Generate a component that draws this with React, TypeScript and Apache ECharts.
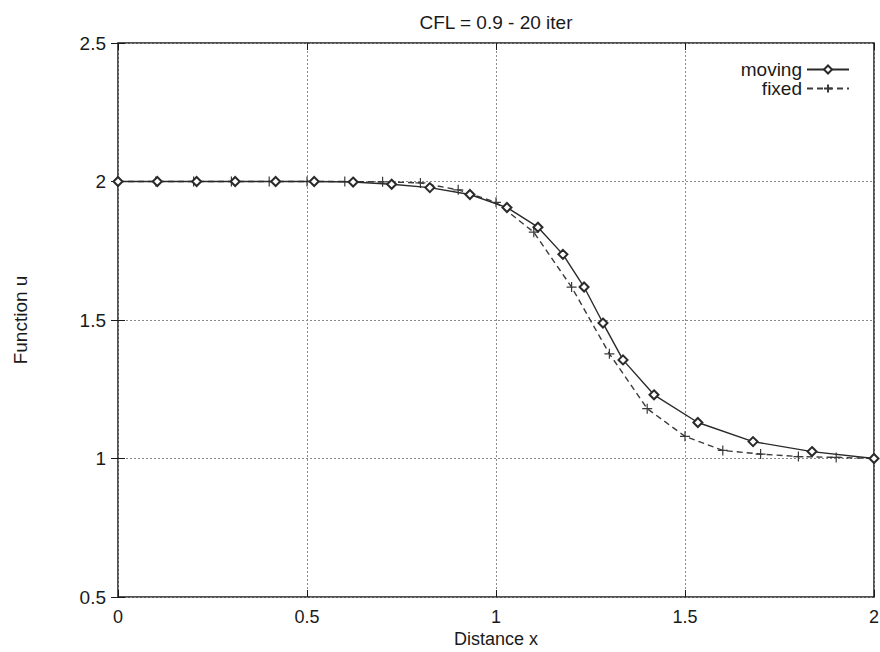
import React, { useEffect, useRef } from "react";
import * as echarts from "echarts";

const titleText = "CFL = 0.9 - 20 iter";
const xAxisName = "Distance x";
const yAxisName = "Function u";
const seriesNames = ["moving", "fixed"];

const movingX = [0, 0.104, 0.208, 0.31, 0.417, 0.519, 0.622, 0.724, 0.825, 0.931, 1.029, 1.111, 1.177, 1.233, 1.283, 1.336, 1.418, 1.534, 1.68, 1.836, 2.0];
const movingY = [2, 2, 2, 2, 2, 2, 1.998, 1.99, 1.978, 1.953, 1.906, 1.835, 1.737, 1.619, 1.489, 1.356, 1.23, 1.13, 1.061, 1.025, 1.0];

const fixedX = [0, 0.1, 0.2, 0.3, 0.4, 0.5, 0.6, 0.7, 0.8, 0.9, 1.0, 1.1, 1.2, 1.3, 1.4, 1.5, 1.6, 1.7, 1.8, 1.9, 2.0];
const fixedY = [2, 2, 2, 2, 2, 2, 2, 1.999, 1.995, 1.97, 1.925, 1.817, 1.619, 1.378, 1.18, 1.08, 1.029, 1.016, 1.007, 1.004, 1.0];

const xMin = 0, xMax = 2, xStep = 0.5;
const yMin = 0.5, yMax = 2.5, yStep = 0.5;

const FONT = "'Liberation Sans', Arial, Helvetica, sans-serif";
const INK = "#1a1a1a";
const PLUS = "path://M0,5 L10,5 M5,0 L5,10";

export default function App() {
  const ref = useRef<HTMLDivElement>(null);
  useEffect(() => {
    if (!ref.current) return;
    const chart = echarts.init(ref.current, undefined, { renderer: "svg" });
    const gridLeft = 118, gridRight = 6, gridTop = 43, gridBottom = 55;
    const plotCenterX = gridLeft + (880 - gridLeft - gridRight) / 2;
    const tickCommon = { show: true, inside: true, length: 7, lineStyle: { color: INK, width: 1 } };
    const labelStyle = { color: INK, fontSize: 19, fontFamily: FONT };
    const xLabelStyle = { color: INK, fontSize: 18, fontFamily: FONT, lineHeight: 16 };
    chart.setOption({
      animation: false,
      backgroundColor: "#ffffff",
      grid: {
        left: gridLeft, right: gridRight, top: gridTop, bottom: gridBottom,
        outerBoundsMode: "none",
        containLabel: false,
        show: true, borderColor: INK, borderWidth: 1.5, backgroundColor: "transparent",
      },
      graphic: [
        {
          type: "text", x: plotCenterX, y: 22,
          style: { text: titleText, fill: INK, font: `19px ${FONT}`, textAlign: "center", textVerticalAlign: "middle" },
        },
      ],
      legend: {
        data: seriesNames,
        orient: "vertical",
        right: 25,
        top: 55,
        align: "right",
        itemWidth: 42,
        itemHeight: 10,
        itemGap: 0,
        textStyle: { ...labelStyle, lineHeight: 19 },
      },
      xAxis: [
        {
          type: "value", min: xMin, max: xMax, interval: xStep, position: "bottom",
          name: xAxisName, nameLocation: "middle", nameGap: 34,
          nameMoveOverlap: false,
          nameTextStyle: xLabelStyle,
          axisLine: { show: false },
          axisTick: tickCommon,
          axisLabel: { ...xLabelStyle, margin: 12 },
          splitLine: { show: true, lineStyle: { color: "#8a8a8a", type: [2, 2], width: 1 } },
        },
        {
          type: "value", min: xMin, max: xMax, interval: xStep, position: "top",
          axisLine: { show: false }, axisTick: tickCommon, axisLabel: { show: false }, splitLine: { show: false },
        },
      ],
      yAxis: [
        {
          type: "value", min: yMin, max: yMax, interval: yStep, position: "left",
          name: yAxisName, nameLocation: "middle", nameGap: 88,
          nameTextStyle: labelStyle,
          axisLine: { show: false },
          axisTick: tickCommon,
          axisLabel: { ...labelStyle, margin: 12 },
          splitLine: { show: true, lineStyle: { color: "#8a8a8a", type: [2, 2], width: 1 } },
        },
        {
          type: "value", min: yMin, max: yMax, interval: yStep, position: "right",
          axisLine: { show: false }, axisTick: tickCommon, axisLabel: { show: false }, splitLine: { show: false },
        },
      ],
      series: [
        {
          name: seriesNames[0],
          type: "line",
          data: movingX.map((x, i) => [x, movingY[i]]),
          symbol: "emptyDiamond",
          symbolSize: 9,
          showAllSymbol: true,
          lineStyle: { color: "#2a2a2a", width: 1.4, type: "solid" },
          itemStyle: { color: "#2a2a2a", borderColor: "#2a2a2a", borderWidth: 1.4 },
          z: 3,
        },
        {
          name: seriesNames[1],
          type: "line",
          data: fixedX.map((x, i) => [x, fixedY[i]]),
          symbol: PLUS,
          symbolSize: 10,
          showAllSymbol: true,
          lineStyle: { color: "#3a3a3a", width: 1.4, type: [6, 4] },
          itemStyle: { color: "#3a3a3a", borderColor: "#3a3a3a", borderWidth: 1.2 },
          z: 2,
        },
      ],
    });
    return () => chart.dispose();
  }, []);
  return (
    <div
      ref={ref}
      style={{ position: "fixed", left: 0, top: 0, width: 880, height: 652, background: "#fff" }}
    />
  );
}
